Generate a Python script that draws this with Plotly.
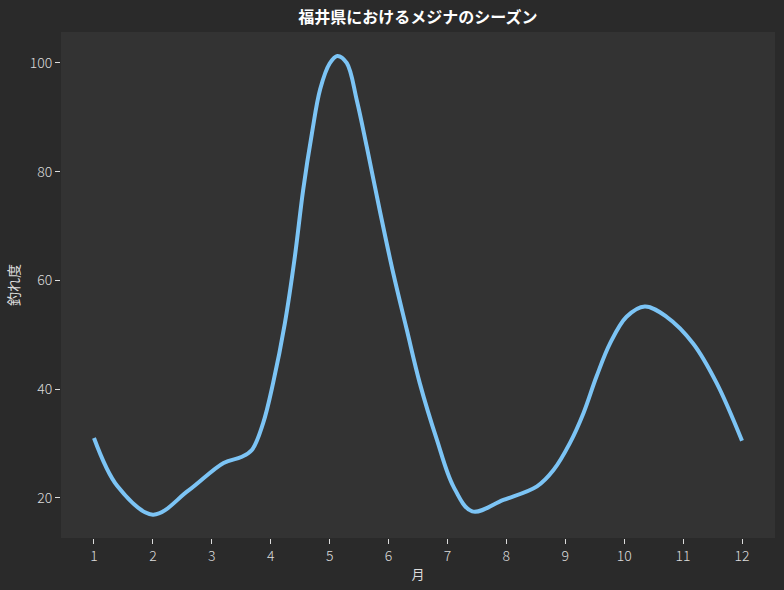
import plotly.graph_objects as go

# 月ごとの釣れ度 (図の曲線から読み取った値)
months = [1, 1.4, 2.0, 2.6, 3.2, 3.5, 3.68, 3.87, 4.04, 4.24, 4.41, 4.55, 4.7, 4.84, 5.0, 5.13,
          5.29, 5.46, 5.63, 5.86, 6.08, 6.31, 6.53, 6.82, 7.1, 7.42, 7.95, 8.52, 8.8, 9.08,
          9.31, 9.53, 9.76, 10.04, 10.35, 10.72, 11.17, 11.57, 12.0]
catch_rate = [31.0, 22.1, 16.9, 21.3, 26.4, 27.5, 28.8, 33.7, 41.1, 52.1, 64.4, 76.6, 87.1,
              95.2, 99.9, 101.3, 100.0, 93.2, 84.6, 72.4, 61.3, 50.9, 41.1, 30.7, 22.1, 17.5,
              19.6, 22.1, 25.1, 30.1, 35.6, 42.3, 48.4, 53.3, 55.2, 53.3, 48.4, 41.1, 30.5]
month_ticks = list(range(1, 13))
y_ticks = [20, 40, 60, 80, 100]

FONT = "Noto Sans CJK JP, sans-serif"
TXT = "#dcdcdc"

fig = go.Figure()
fig.add_trace(go.Scatter(
    x=months, y=catch_rate, mode="lines",
    line=dict(color="#7cc4f5", width=4, shape="spline", smoothing=1.0),
    hoverinfo="x+y", showlegend=False,
))

fig.update_layout(
    width=784, height=590,
    paper_bgcolor="#2a2a2a", plot_bgcolor="#333333",
    margin=dict(l=61, r=9, t=32, b=52),
    title=dict(text="<b>福井県におけるメジナのシーズン</b>", x=0.533, xanchor="center",
               y=0.971, yanchor="middle", font=dict(family=FONT, size=16, color="#ffffff")),
    font=dict(family=FONT, color=TXT, size=14),
)
fig.update_xaxes(
    range=[0.44, 12.56], tickvals=month_ticks, showgrid=False, zeroline=False,
    ticks="outside", ticklen=5, tickcolor=TXT, tickfont=dict(size=14, color=TXT, weight=300),
    title=dict(text="月", font=dict(size=13, color=TXT), standoff=6),
)
fig.update_yaxes(
    range=[12.6, 105.7], tickvals=y_ticks, showgrid=False, zeroline=False,
    ticks="outside", ticklen=5, tickcolor=TXT, tickfont=dict(size=14, color=TXT, weight=300),
    title=dict(text="釣れ度", font=dict(size=14, color=TXT), standoff=6),
)

fig.write_html("out.html", config={"displayModeBar": False},
               post_script="document.body.style.margin='0';")
